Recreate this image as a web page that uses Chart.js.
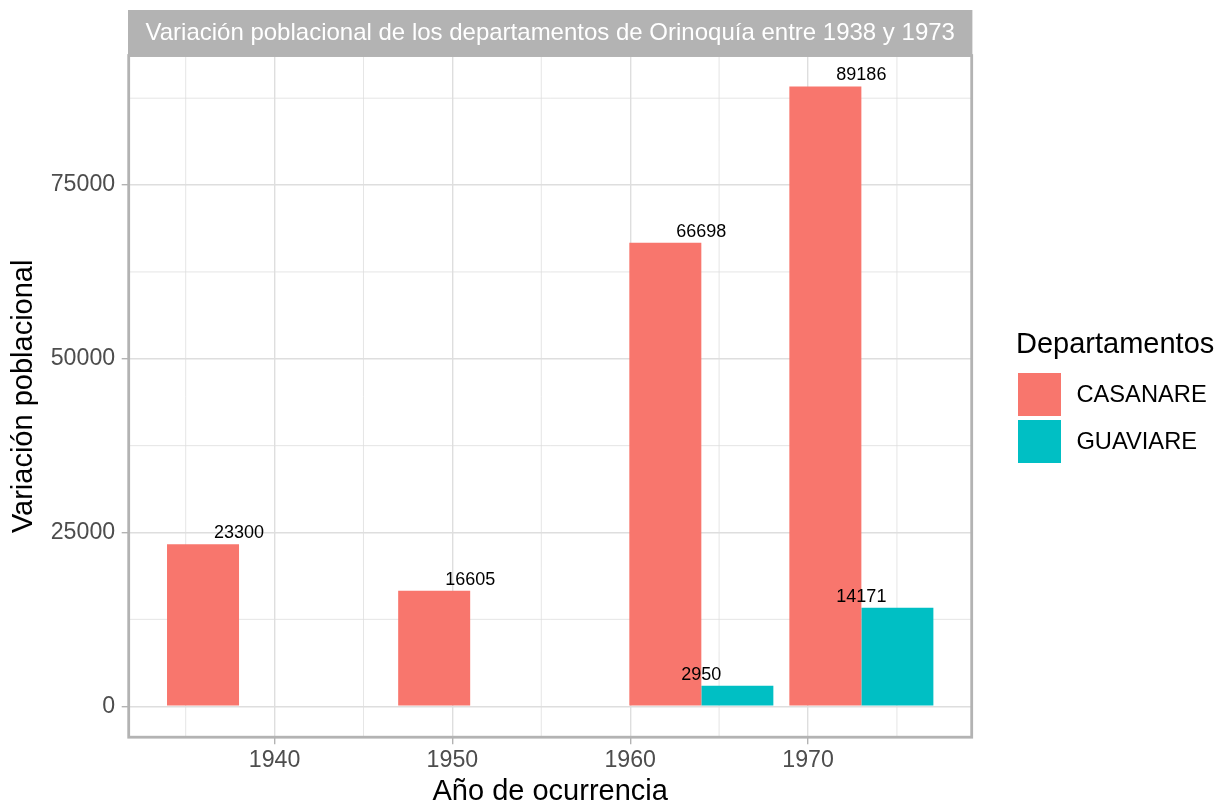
<!DOCTYPE html>
<html lang="es">
<head>
<meta charset="utf-8">
<title>Variación poblacional de Orinoquía</title>
<script src="https://cdn.jsdelivr.net/npm/chart.js@4.4.1/dist/chart.umd.min.js"></script>
<style>
    html, body { margin: 0; padding: 0; background: #FFFFFF; }
    #wrap {
        position: relative;
        width: 1222px;
        height: 806px;
        font-family: 'Liberation Sans', Arial, sans-serif;
    }
    #legend-title {
        position: absolute;
        left: 1016px;
        top: 328.8px;
        font-size: 29px;
        line-height: 29px;
        color: #000000;
        white-space: nowrap;
    }
    .legend-row {
        position: absolute;
        left: 1018px;
        height: 43.4px;
        display: flex;
        align-items: center;
        font-size: 23.7px;
        line-height: 23.7px;
        color: #000000;
        white-space: nowrap;
    }
    .legend-key { width: 43.4px; height: 43.4px; margin-right: 15px; }
</style>
</head>
<body>
<div id="wrap">
    <canvas id="popChart"></canvas>
    <div id="legend-title">Departamentos</div>
</div>
<script>
// ─── Data ───────────────────────────────────────────────────────────────────
const years       = [1938, 1951, 1964, 1973];
const casanare    = [23300, 16605, 66698, 89186];
const guaviare    = [null, null, 2950, 14171];
const seriesNames = ['CASANARE', 'GUAVIARE'];

const xTicks      = [1940, 1950, 1960, 1970];
const xMinorTicks = [1935, 1945, 1955, 1965, 1975];
const yTicks      = [0, 25000, 50000, 75000];
const yMinorTicks = [12500, 37500, 62500, 87500];

const stripTitle = 'Variación poblacional de los departamentos de Orinoquía entre 1938 y 1973';
const xTitle     = 'Año de ocurrencia';
const yTitle     = 'Variación poblacional';

// ─── Styles ─────────────────────────────────────────────────────────────────
const COLORS = ['#F8766D', '#00BFC4'];
const FONT   = "'Liberation Sans', Arial, sans-serif";
const GRID   = '#DEDEDE';
const GREY70 = '#B3B3B3';

// ggplot-like limits: dodge width 0.9 of the year resolution, 5% expansion
let minGap = Infinity;
for (let i = 1; i < years.length; i++) minGap = Math.min(minGap, years[i] - years[i - 1]);
const groupWidth = 0.9 * minGap;
const xLo = years[0] - groupWidth / 2;
const xHi = years[years.length - 1] + groupWidth / 2;
const xPad = (xHi - xLo) * 0.05;
const yHi = Math.max(...casanare, ...guaviare.filter(v => v !== null));
const yPad = yHi * 0.05;

const seriesValues = [casanare, guaviare];

// ─── Legend (HTML) ──────────────────────────────────────────────────────────
const wrap = document.getElementById('wrap');
seriesNames.forEach((name, i) => {
    const row = document.createElement('div');
    row.className = 'legend-row';
    row.style.top = (372.7 + i * 47.3) + 'px';
    const key = document.createElement('div');
    key.className = 'legend-key';
    key.style.background = COLORS[i];
    const label = document.createElement('span');
    label.textContent = name;
    row.appendChild(key);
    row.appendChild(label);
    wrap.appendChild(row);
});

// ─── Panel plugin: minor grid, border, strip, value labels ─────────────────
const panelPlugin = {
    id: 'ggPanel',
    beforeDatasetsDraw(chart) {
        const { ctx, chartArea: a, scales: { x, y } } = chart;
        ctx.save();
        ctx.strokeStyle = GRID;
        ctx.lineWidth = 0.8;
        ctx.beginPath();
        xMinorTicks.forEach(v => {
            const px = x.getPixelForValue(v);
            ctx.moveTo(px, a.top);
            ctx.lineTo(px, a.bottom);
        });
        yMinorTicks.forEach(v => {
            const py = y.getPixelForValue(v);
            ctx.moveTo(a.left, py);
            ctx.lineTo(a.right, py);
        });
        ctx.stroke();
        ctx.restore();
    },
    afterDatasetsDraw(chart) {
        const { ctx, scales: { x, y } } = chart;
        ctx.save();
        ctx.font = '18px ' + FONT;
        ctx.fillStyle = '#000000';
        ctx.textAlign = 'center';
        ctx.textBaseline = 'alphabetic';
        seriesValues.forEach(values => {
            values.forEach((v, i) => {
                if (v === null) return;
                ctx.fillText(String(v), x.getPixelForValue(years[i]), y.getPixelForValue(v) - 6);
            });
        });
        ctx.restore();
    },
    afterDraw(chart) {
        const { ctx, chartArea: a } = chart;
        ctx.save();
        // panel border
        ctx.strokeStyle = GREY70;
        ctx.lineWidth = 2.8;
        ctx.strokeRect(a.left, a.top, a.right - a.left, a.bottom - a.top);
        // facet strip
        ctx.fillStyle = GREY70;
        ctx.fillRect(a.left - 0.7, 10, a.right - a.left + 1.4, a.top + 1.2 - 10);
        ctx.fillStyle = '#FFFFFF';
        ctx.font = '24px ' + FONT;
        ctx.textAlign = 'center';
        ctx.textBaseline = 'middle';
        ctx.fillText(stripTitle, (a.left + a.right) / 2, (10 + a.top + 1.2) / 2 + 0.3);
        ctx.restore();
    }
};

// ─── Chart ──────────────────────────────────────────────────────────────────
Chart.defaults.font.family = FONT;

new Chart(document.getElementById('popChart'), {
    type: 'bar',
    data: {
        labels: years,
        datasets: seriesNames.map((name, i) => ({
            label: name,
            data: seriesValues[i],
            backgroundColor: COLORS[i],
            borderWidth: 0,
            categoryPercentage: 0.9,
            barPercentage: 1.0
        }))
    },
    options: {
        responsive: true,
        maintainAspectRatio: false,
        animation: false,
        layout: { padding: { top: 55.5, right: 250.3, bottom: 0, left: 0 } },
        plugins: {
            legend: { display: false },
            tooltip: { enabled: false }
        },
        scales: {
            x: {
                type: 'linear',
                min: xLo - xPad,
                max: xHi + xPad,
                offset: false,
                afterBuildTicks: scale => { scale.ticks = xTicks.map(v => ({ value: v })); },
                afterFit: scale => { scale.height = 68.8; },
                grid: {
                    offset: false,
                    color: GRID,
                    lineWidth: 1.4,
                    drawTicks: true,
                    tickLength: 7,
                    tickColor: GREY70,
                    tickWidth: 1.4
                },
                border: { display: false },
                ticks: {
                    color: '#4D4D4D',
                    font: { size: 23.2, lineHeight: 1.2 },
                    padding: 2,
                    maxRotation: 0,
                    autoSkip: false,
                    callback: v => String(v)
                },
                title: {
                    display: true,
                    text: xTitle,
                    color: '#000000',
                    font: { size: 29, lineHeight: 1 },
                    padding: 0
                }
            },
            y: {
                type: 'linear',
                min: -yPad,
                max: yHi + yPad,
                afterBuildTicks: scale => { scale.ticks = yTicks.map(v => ({ value: v })); },
                afterFit: scale => { scale.width = 128.7; },
                grid: {
                    color: GRID,
                    lineWidth: 1.4,
                    drawTicks: true,
                    tickLength: 7,
                    tickColor: GREY70,
                    tickWidth: 1.4
                },
                border: { display: false },
                ticks: {
                    color: '#4D4D4D',
                    font: { size: 23.2 },
                    padding: 6.5,
                    autoSkip: false,
                    callback: v => String(v)
                },
                title: {
                    display: true,
                    text: yTitle,
                    color: '#000000',
                    font: { size: 29, lineHeight: 1 },
                    padding: { top: 9.5, bottom: 0 }
                }
            }
        }
    },
    plugins: [panelPlugin]
});
</script>
</body>
</html>
